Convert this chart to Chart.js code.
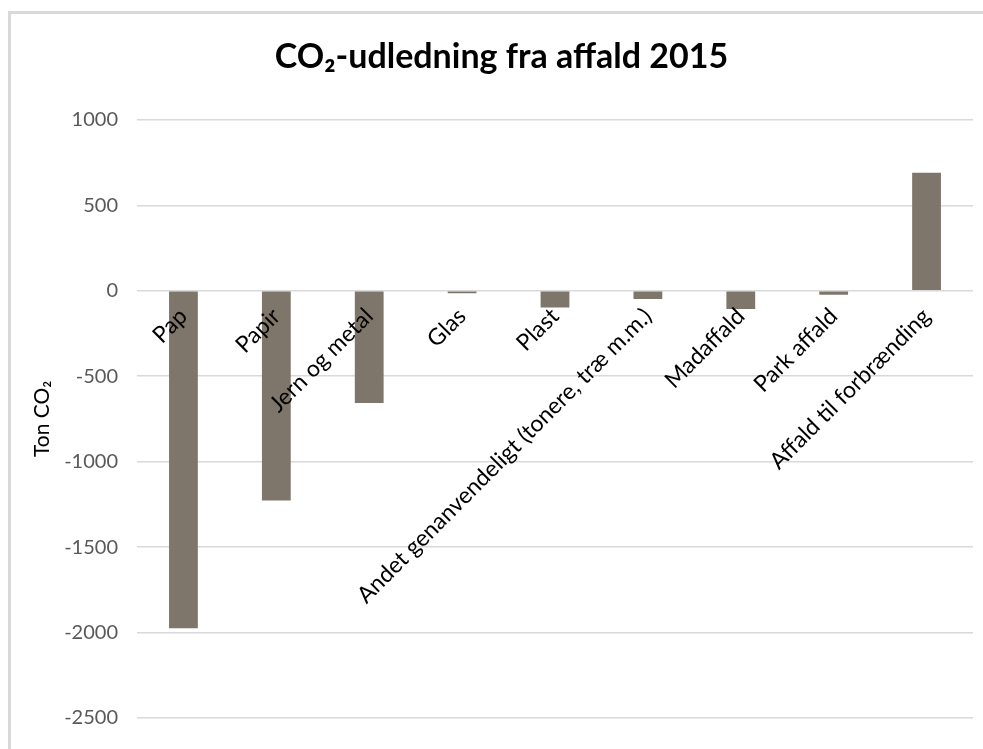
<!DOCTYPE html>
<html>
<head>
<meta charset="utf-8">
<script src="https://cdn.jsdelivr.net/npm/chart.js@4"></script>
<style>
  html, body { margin: 0; padding: 0; background: #fff; }
  #wrap { width: 983px; height: 749px; }
</style>
</head>
<body>
<div id="wrap"><canvas id="chart" width="983" height="749"></canvas></div>
<script>
const categories = ['Pap', 'Papir', 'Jern og metal', 'Glas', 'Plast',
  'Andet genanvendeligt (tonere, træ m.m.)', 'Madaffald', 'Park affald', 'Affald til forbrænding'];
const tonCO2 = [-1975, -1228, -657, -15, -98, -48, -107, -24, 690];
const yMin = -2500;
const yMax = 1000;
const yStep = 500;

// light grey frame of the Excel chart area (cropped on the right and bottom)
const frame = {
  id: 'frame',
  beforeDraw(chart) {
    const ctx = chart.ctx;
    ctx.save();
    ctx.strokeStyle = '#d9d9d9';
    ctx.lineWidth = 3;
    ctx.beginPath();
    ctx.moveTo(9.5, 760);
    ctx.lineTo(9.5, 12.5);
    ctx.lineTo(1000, 12.5);
    ctx.stroke();
    ctx.restore();
  }
};

new Chart(document.getElementById('chart'), {
  type: 'bar',
  data: {
    labels: categories,
    datasets: [{
      label: 'Ton CO₂',
      data: tonCO2,
      backgroundColor: '#7f766b',
      borderWidth: 0,
      barPercentage: 0.31,
      categoryPercentage: 1
    }]
  },
  options: {
    responsive: false,
    animation: false,
    layout: { padding: { left: 30, right: 10, top: 20, bottom: 20 } },
    plugins: {
      legend: { display: false },
      tooltip: { enabled: false },
      title: {
        display: true,
        text: 'CO₂-udledning fra affald 2015',
        color: '#000',
        font: { family: 'Lato, "Noto Sans", sans-serif', size: 34, weight: 'bold' },
        padding: { top: 17, bottom: 42 }
      }
    },
    scales: {
      x: {
        position: { y: 0 },
        grid: { display: false },
        border: { display: false },
        afterFit(s) { s.paddingLeft = 0; s.paddingRight = 0; },
        ticks: {
          z: 1,
          color: '#000',
          font: { family: 'Lato, "Noto Sans", sans-serif', size: 23 },
          minRotation: 45,
          maxRotation: 45,
          autoSkip: false,
          padding: 4
        }
      },
      y: {
        min: yMin,
        max: yMax,
        afterFit(s) { s.width = 107; },
        grid: { color: '#d9d9d9', lineWidth: 1.5, drawTicks: false },
        border: { display: false },
        ticks: {
          stepSize: yStep,
          color: '#595959',
          padding: 19,
          font: { family: 'Lato, "Noto Sans", sans-serif', size: 20 },
          callback: (v) => String(v)
        },
        title: {
          display: true,
          text: 'Ton CO₂',
          color: '#000',
          font: { family: 'Lato, "Noto Sans", sans-serif', size: 21 },
          padding: { top: 0, bottom: 0 }
        }
      }
    }
  },
  plugins: [frame]
});
</script>
</body>
</html>
